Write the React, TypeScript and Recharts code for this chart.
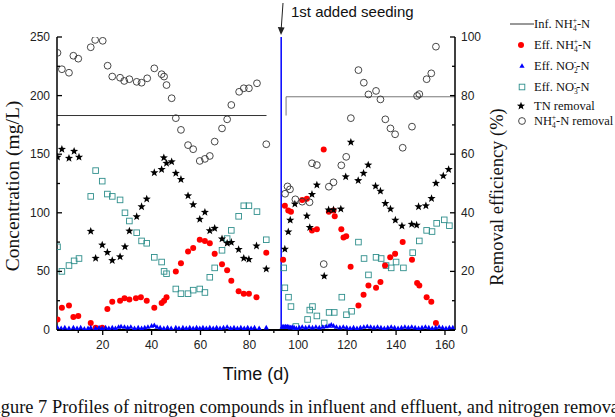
import React from 'react';
import { ComposedChart, Scatter, Line, XAxis, YAxis, ReferenceLine } from 'recharts';

type Pt = [number, number];

const dayTicks = [10, 20, 30, 40, 50, 60, 70, 80, 90, 100, 110, 120, 130, 140, 150, 160];
const concTicks = [0, 25, 50, 75, 100, 125, 150, 175, 200, 225, 250];
const pctTicks = [0, 10, 20, 30, 40, 50, 60, 70, 80, 90, 100];

const seedingDay = 93;

// influent NH4+-N (mg/L), before and after seeding
const infPhase1: Pt[] = [[1.3, 183], [87, 183]];
const infPhase2: Pt[] = [[95, 183], [95, 199], [164.1, 199]];

// effluent NH4+-N (mg/L)
const effNH4: Pt[] = [
  [1.5, 9], [3.3, 19], [6.2, 21], [8, 11], [10, 12], [15.1, 6], [17.1, 2], [19.8, 2], [21.9, 18],
  [23.9, 24], [27.1, 25], [28.9, 27], [30.9, 26], [33.6, 27], [35.6, 28], [38, 25], [41.1, 19],
  [44.1, 23], [45.1, 25], [46.1, 28], [49.9, 50], [52, 57], [54.9, 67], [57, 70], [59.7, 77],
  [61.8, 76], [63.8, 74], [65.8, 65], [68.8, 56], [70.9, 51], [72.6, 42], [75.6, 33], [77.7, 31],
  [79.8, 31], [82.9, 28], [86.9, 66],
  [93.8, 60], [94.5, 106], [95.9, 102], [97, 101], [101.6, 111], [103.5, 112], [105.6, 85],
  [107.6, 86], [110.4, 154], [112.5, 101], [114.4, 102], [114.9, 97], [117.6, 86], [118.5, 79],
  [119.6, 80], [121.4, 54], [124.6, 21], [126.7, 30], [128.7, 38], [131.8, 36], [133.6, 41],
  [135.5, 55], [137.6, 62], [139.6, 65], [142.7, 75], [146.5, 60], [148.6, 40], [149.5, 38],
  [152.5, 28], [154.4, 24], [156.3, 6],
];

// effluent NO2--N (mg/L)
const effNO2: Pt[] = [
  [1.5, 2], [3, 1.5], [4.5, 2], [6.2, 1.5], [8, 2], [9.5, 1.5], [11, 2], [12.5, 1], [14, 1.5],
  [15.1, 2], [17.1, 1.5], [18.5, 2], [19.8, 1.5], [21.2, 2], [22.5, 1.5], [23.9, 2], [25.2, 1.5],
  [26.5, 2.5], [27.5, 3], [28.9, 2.5], [30.2, 2], [31.5, 2.5], [33, 1.5], [34.5, 2], [35.9, 1.5],
  [37.2, 2], [38.5, 2.5], [40, 3.5], [41.1, 4], [42.2, 2.5], [43.5, 2], [45, 1.5], [46.5, 2],
  [48, 1.5], [49.9, 2], [51.2, 1.5], [52.8, 2], [54.2, 1.5], [55.6, 2], [57, 1.5], [58.4, 2],
  [59.7, 1.5], [61, 2], [62.4, 1.5], [63.8, 2], [65.2, 1.5], [66.6, 2], [68, 1.5], [69.4, 2],
  [70.9, 2.5], [72.3, 1.5], [73.7, 2], [75.1, 1.5], [76.5, 2], [77.9, 1.5], [79.3, 2], [80.7, 1.5],
  [82.1, 2], [84, 1.5], [86.9, 2],
  [93.4, 2.5], [93.8, 3], [94.2, 2.5], [94.7, 3], [95.2, 2.5], [95.7, 3], [96.2, 2.5], [96.8, 2],
  [97.5, 2.5], [98.3, 2], [99.2, 1.5], [100.4, 2], [101.6, 2.5], [103, 2], [104.4, 2.5], [105.8, 2],
  [107.2, 2.5], [108.6, 2], [110, 2.5], [111.4, 3], [112.6, 3.5], [113.5, 4.5], [114.4, 3.5],
  [115.6, 2.5], [117, 2], [118.4, 2.5], [119.8, 2], [121.2, 1.5], [122.6, 2], [124, 1.5], [125.4, 2],
  [126.8, 2.5], [128.2, 3], [129.6, 2.5], [131, 2], [132.4, 2.5], [133.8, 2], [135.2, 1.5], [136.6, 2],
  [138, 2.5], [139.4, 2], [140.8, 1.5], [142.2, 2], [143.6, 2.5], [145, 2], [146.4, 2.5], [147.8, 2],
  [149.2, 1.5], [150.6, 2], [152, 2.5], [153.4, 2], [154.8, 1.5], [156.2, 2], [157.6, 2.5], [159, 2],
  [160.4, 1.5], [161.8, 2], [163.2, 2],
];

// effluent NO3--N (mg/L)
const effNO3: Pt[] = [
  [1.5, 71], [3.3, 50], [6.2, 55], [8.3, 59], [10.3, 61], [15.1, 114], [17.1, 136], [19.8, 127],
  [21.9, 116], [23.9, 114], [27.1, 111], [29.1, 100], [30.9, 93], [33.9, 83], [35.9, 76], [38, 74],
  [41.1, 62], [44.1, 58], [45.1, 50], [46.1, 48], [49.9, 35], [52, 31], [54.9, 31], [57, 34],
  [59.7, 35], [61.8, 32], [63.8, 45], [65.8, 53], [68.8, 68], [70.9, 78], [72.6, 85], [75.6, 97],
  [77.7, 106], [79.8, 106], [83.1, 101], [86.9, 77],
  [94, 53], [94.5, 36], [96, 28], [97, 20], [99, 3], [103.8, 9], [104.7, 17], [105.8, 20],
  [107.6, 12], [110.6, 6], [112.6, 15], [114.7, 15], [117.8, 28], [119.7, 13], [121.8, 16],
  [124.6, 75], [126.9, 61], [128.7, 47], [131.8, 62], [133.9, 61], [135.9, 55], [138, 53],
  [140, 58], [143, 53], [146.8, 66], [149.5, 76], [152.5, 85], [154.7, 84], [156.6, 91],
  [159.7, 94], [161.8, 89],
];

// TN removal (%)
const tnRemoval: Pt[] = [
  [1.5, 59], [3.3, 61.7], [6.2, 58.6], [8.3, 61], [10.3, 59], [15.1, 33.7], [17.1, 24.5], [19.8, 29],
  [21.9, 26.5], [23.9, 23.7], [27.1, 25], [29.1, 28.4], [30.9, 33.8], [33.9, 38.7], [35.9, 42.1],
  [38, 44.7], [41.1, 53.7], [44.1, 54.8], [45, 58.8], [46.1, 56.9], [48.2, 57.4], [49.9, 53.5],
  [52, 51.4], [54.9, 45.8], [57, 42.8], [59.7, 37.8], [61.8, 40.2], [63.8, 33.9], [65.8, 34.7],
  [68.8, 31.1], [70.9, 29.6], [72.6, 29.9], [75.6, 27.5], [77.7, 24.5], [79.8, 24.1], [82.9, 28.7],
  [86.9, 20.8],
  [94.5, 27.6], [95.9, 33.5], [96.7, 37.5], [98.6, 43], [103.5, 38.9], [104.7, 35], [105.6, 46.3],
  [107.6, 49.5], [110.6, 18.4], [112.4, 41], [114.4, 41], [117.4, 41.3], [119.4, 52.3], [121.5, 64.1],
  [124.5, 51], [126.7, 53.5], [128.6, 56.3], [131.6, 49.1], [133.6, 47.4], [135.6, 43.2], [137.7, 41.3],
  [139.7, 37.5], [142.4, 35.5], [146.4, 36.1], [148.4, 35.8], [149.2, 42.1], [152.2, 42.4],
  [154.5, 44.9], [156.3, 50.1], [159.3, 52.6], [161.5, 54.8],
];

// NH4+-N removal (%)
const nh4Removal: Pt[] = [
  [1.5, 94.6], [3.3, 89], [6.2, 87.8], [8, 93.6], [10, 92.6], [15.1, 96.5], [16.9, 99], [20, 98.7],
  [22, 90.2], [23.9, 86.5], [27.1, 86.1], [28.8, 85], [30.9, 85.6], [33.9, 84.7], [35.9, 84.4],
  [38.2, 85.9], [41.1, 89.3], [44.1, 87.3], [45.1, 86.5], [46.1, 83.6], [48.2, 79.1], [49.9, 72.3],
  [52, 68.3], [54.9, 63.1], [57, 61.7], [59.7, 57.7], [61.8, 58.4], [63.8, 59.4], [65.8, 64.3],
  [68.8, 68.8], [70.9, 71.9], [72.6, 76.8], [75.8, 81.3], [77.7, 82.5], [79.8, 82.5], [83.1, 84.2],
  [86.9, 63.4],
  [94.6, 46.5], [95.6, 49], [96.6, 48], [98.8, 44.6], [101.6, 43.8], [104.6, 43.6], [105.6, 56.9],
  [107.6, 56.3], [110.4, 22.5], [112.5, 48.9], [114.4, 50.4], [117.6, 56.2], [119.6, 59.1],
  [121.5, 72.3], [124.6, 88.7], [126.8, 84.4], [128.7, 80.4], [131.8, 81.6], [133.6, 78.7],
  [135.6, 71.9], [137.7, 68.8], [139.6, 66.8], [142.7, 62.2], [146.5, 69.4], [148.6, 79.9],
  [149.5, 80.5], [152.5, 85.6], [154.4, 87.6], [156.3, 96.7],
];

const toXY = (pts: Pt[]) => pts.map(([x, y]) => ({ x, y }));

const SANS = 'Liberation Sans, Arial, sans-serif';
const SERIF = 'Liberation Serif, Times New Roman, serif';

const RED = '#ff0000';
const BLUE = '#0000ff';
const TEAL = '#2f8f8c';

const starPoints = (cx: number, cy: number, ro: number, ri: number) => {
  const pts: string[] = [];
  for (let i = 0; i < 10; i++) {
    const a = (-90 + i * 36) * Math.PI / 180;
    const r = i % 2 === 0 ? ro : ri;
    pts.push(`${cx + r * Math.cos(a)},${cy + r * Math.sin(a)}`);
  }
  return pts.join(' ');
};

const DotShape = (p: any) => <circle cx={p.cx} cy={p.cy} r={3} fill={RED} />;
const RingShape = (p: any) => <circle cx={p.cx} cy={p.cy} r={3.4} fill="none" stroke="#333" strokeWidth={0.9} />;
const BoxShape = (p: any) => (
  <rect x={p.cx - 2.8} y={p.cy - 2.8} width={5.6} height={5.6} fill="none" stroke={TEAL} strokeWidth={0.9} />
);
const TriShape = (p: any) => (
  <polygon points={`${p.cx},${p.cy - 2.8} ${p.cx + 2.6},${p.cy + 1.8} ${p.cx - 2.6},${p.cy + 1.8}`} fill={BLUE} />
);
const StarShape = (p: any) => <polygon points={starPoints(p.cx, p.cy, 4.3, 1.8)} fill="#000" />;

const XTick = (p: any) => {
  const v = p.payload.value;
  const major = v % 20 === 0;
  return (
    <g>
      <line x1={p.x} x2={p.x} y1={p.y} y2={p.y + (major ? 5 : 3)} stroke="#000" strokeWidth={1.3} />
      {major && (
        <text x={p.x} y={p.y + 19} textAnchor="middle" fontSize={12} fontFamily={SANS} fill="#222">{v}</text>
      )}
    </g>
  );
};

const LeftTick = (p: any) => {
  const v = p.payload.value;
  const major = v % 50 === 0;
  return (
    <g>
      <line x1={p.x} x2={p.x + (major ? 5 : 3)} y1={p.y} y2={p.y} stroke="#000" strokeWidth={1.3} />
      {major && (
        <text x={p.x - 7} y={p.y + 4} textAnchor="end" fontSize={12} fontFamily={SANS} fill="#222">{v}</text>
      )}
    </g>
  );
};

const RightTick = (p: any) => {
  const v = p.payload.value;
  const major = v % 20 === 0;
  return (
    <g>
      <line x1={p.x} x2={p.x - (major ? 5 : 3)} y1={p.y} y2={p.y} stroke="#000" strokeWidth={1.3} />
      {major && (
        <text x={p.x + 6} y={p.y + 4} textAnchor="start" fontSize={12} fontFamily={SANS} fill="#222">{v}</text>
      )}
    </g>
  );
};

// ion label with stacked sub/superscript, e.g. NH4+
const Ion = ({ base, sub, sup, rest }: { base: string; sub: string; sup: string; rest: string }) => (
  <>
    <tspan>{base}</tspan>
    <tspan fontSize={7.5} dy={3}>{sub}</tspan>
    <tspan fontSize={7.5} dx={-4} dy={-8}>{sup}</tspan>
    <tspan dy={5}>{rest}</tspan>
  </>
);

const legendRows = [24, 45, 66, 87, 106, 121];

function Overlay() {
  const tx = 534;
  const sx = 521;
  const fs = 12.5;
  return (
    <svg width={615} height={417} style={{ position: 'absolute', left: 0, top: 0, pointerEvents: 'none' }}>
      {/* axis titles */}
      <text x={0} y={0} transform="translate(19,186) rotate(-90)" textAnchor="middle" fontSize={19.5} fontFamily={SERIF} fill="#111">
        Concentration (mg/L)
      </text>
      <text x={0} y={0} transform="translate(503,197) rotate(-90)" textAnchor="middle" fontSize={18.5} fontFamily={SERIF} fill="#111">
        Removal efficiency (%)
      </text>
      <text x={256} y={380} textAnchor="middle" fontSize={18} fontFamily={SANS} fill="#111">Time (d)</text>

      {/* seeding annotation */}
      <line x1={283} y1={3} x2={281.2} y2={29} stroke="#222" strokeWidth={1} />
      <polygon points="277.8,27 284.6,27.4 281,35" fill="#222" />
      <text x={291} y={17} fontSize={15} fontFamily={SANS} fill="#111">1st added seeding</text>

      {/* legend */}
      <line x1={510} x2={534} y1={legendRows[0]} y2={legendRows[0]} stroke="#333" strokeWidth={1} />
      <text x={tx} y={legendRows[0] + 4} fontSize={fs} fontFamily={SERIF} fill="#111">
        <Ion base="Inf. NH" sub="4" sup="+" rest="-N" />
      </text>
      <DotShape cx={sx} cy={legendRows[1]} />
      <text x={tx} y={legendRows[1] + 4} fontSize={fs} fontFamily={SERIF} fill="#111">
        <Ion base="Eff. NH" sub="4" sup="+" rest="-N" />
      </text>
      <TriShape cx={sx + 1} cy={legendRows[2]} />
      <text x={tx} y={legendRows[2] + 4} fontSize={fs} fontFamily={SERIF} fill="#111">
        <Ion base="Eff. NO" sub="2" sup="-" rest="-N" />
      </text>
      <BoxShape cx={sx + 1} cy={legendRows[3]} />
      <text x={tx} y={legendRows[3] + 4} fontSize={fs} fontFamily={SERIF} fill="#111">
        <Ion base="Eff. NO" sub="3" sup="-" rest="-N" />
      </text>
      <StarShape cx={sx} cy={legendRows[4]} />
      <text x={tx} y={legendRows[4] + 4} fontSize={fs} fontFamily={SERIF} fill="#111">TN removal</text>
      <RingShape cx={sx + 1} cy={legendRows[5]} />
      <text x={tx} y={legendRows[5] + 4} fontSize={fs} fontFamily={SERIF} fill="#111">
        <Ion base="NH" sub="4" sup="+" rest="-N removal" />
      </text>

      {/* caption */}
      <text x={-14.5} y={413} fontSize={18.4} fontFamily={SERIF} fill="#111">
        Figure 7 Profiles of nitrogen compounds in influent and effluent, and nitrogen removal efficiency
      </text>
    </svg>
  );
}

export default function App() {
  return (
    <div style={{ position: 'absolute', left: 0, top: 0, width: 615, height: 417, background: '#fff' }}>
      <ComposedChart width={615} height={417} margin={{ top: 37, right: 0, bottom: 0, left: 0 }}>
        <XAxis
          dataKey="x"
          type="number"
          domain={[1.3, 164.1]}
          allowDataOverflow
          ticks={dayTicks}
          interval={0}
          height={87}
          tickSize={0}
          tickMargin={0}
          tickLine={false}
          tick={<XTick />}
          axisLine={{ stroke: '#000', strokeWidth: 2 }}
        />
        <XAxis
          xAxisId="top"
          orientation="top"
          dataKey="x"
          type="number"
          domain={[1.3, 164.1]}
          allowDataOverflow
          height={0}
          tick={false}
          tickLine={false}
          axisLine={{ stroke: '#000', strokeWidth: 2 }}
        />
        <YAxis
          yAxisId="left"
          dataKey="y"
          type="number"
          domain={[0, 250]}
          allowDataOverflow
          ticks={concTicks}
          interval={0}
          width={57}
          tickSize={0}
          tickMargin={0}
          tickLine={false}
          tick={<LeftTick />}
          axisLine={{ stroke: '#000', strokeWidth: 1.5 }}
        />
        <YAxis
          yAxisId="right"
          orientation="right"
          dataKey="y"
          type="number"
          domain={[0, 100]}
          allowDataOverflow
          ticks={pctTicks}
          interval={0}
          width={160}
          tickSize={0}
          tickMargin={0}
          tickLine={false}
          tick={<RightTick />}
          axisLine={{ stroke: '#000', strokeWidth: 1.5 }}
        />
        <ReferenceLine yAxisId="left" x={seedingDay} stroke={BLUE} strokeWidth={1.5} />
        <Line yAxisId="left" data={toXY(infPhase1)} dataKey="y" type="linear" stroke="#333" strokeWidth={1} dot={false} isAnimationActive={false} />
        <Line yAxisId="left" data={toXY(infPhase2)} dataKey="y" type="linear" stroke="#777" strokeWidth={1} dot={false} isAnimationActive={false} />
        <Scatter yAxisId="left" data={toXY(effNO3)} shape={BoxShape} isAnimationActive={false} />
        <Scatter yAxisId="left" data={toXY(effNH4)} shape={DotShape} isAnimationActive={false} />
        <Scatter yAxisId="left" data={toXY(effNO2)} shape={TriShape} isAnimationActive={false} />
        <Scatter yAxisId="right" data={toXY(tnRemoval)} shape={StarShape} isAnimationActive={false} />
        <Scatter yAxisId="right" data={toXY(nh4Removal)} shape={RingShape} isAnimationActive={false} />
      </ComposedChart>
      <Overlay />
    </div>
  );
}
